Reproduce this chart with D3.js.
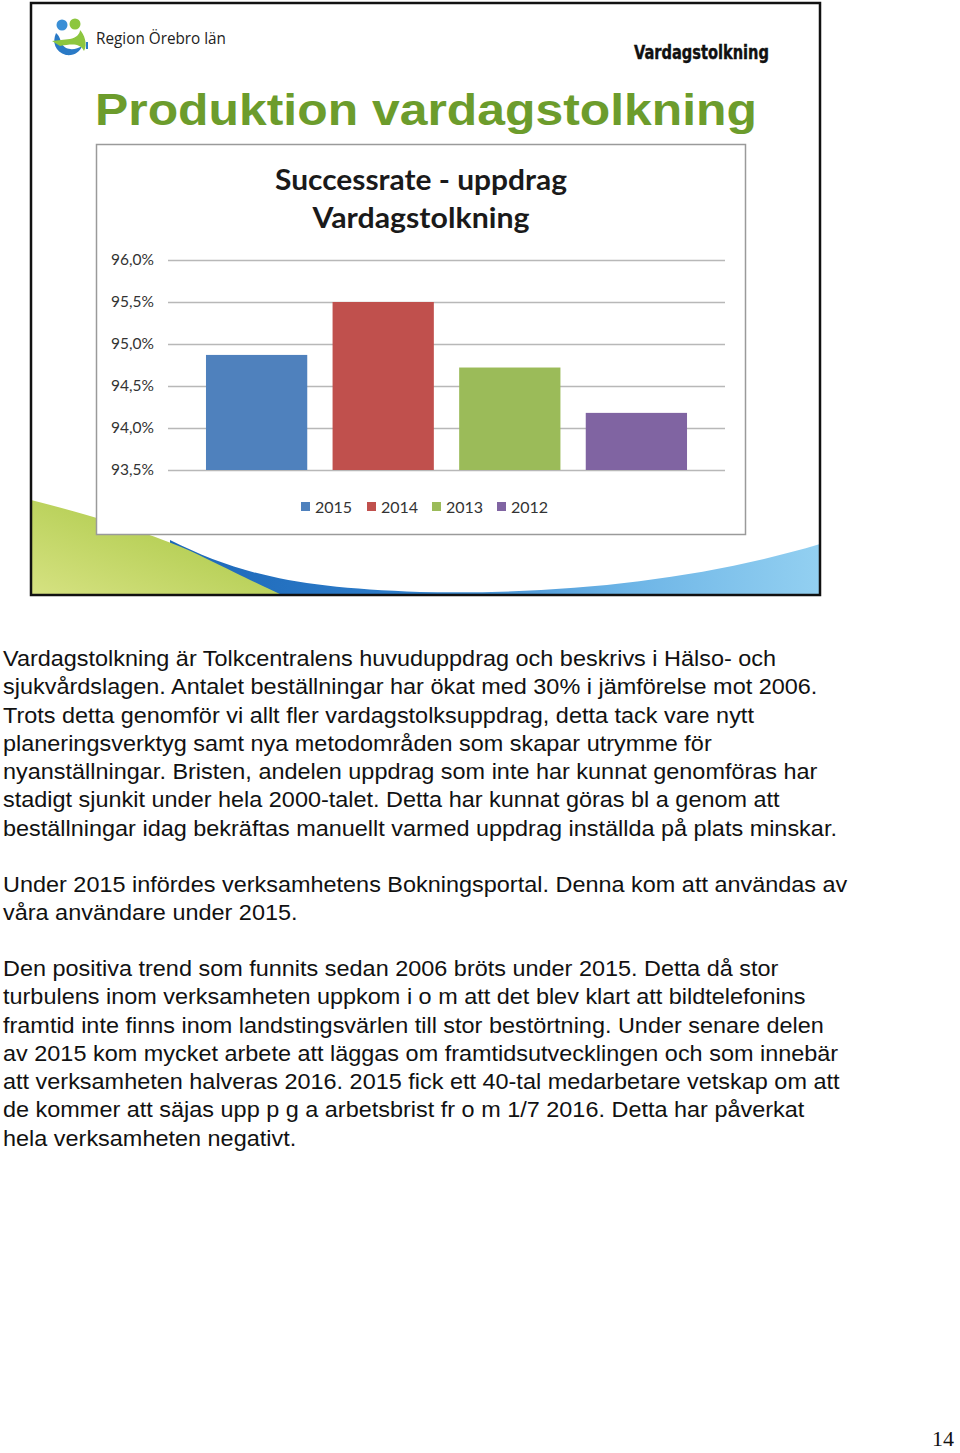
<!DOCTYPE html>
<html><head><meta charset="utf-8">
<script src="https://cdn.jsdelivr.net/npm/d3@7"></script>
<style>
html,body{margin:0;padding:0;background:#fff;}
svg{display:block;}
</style></head>
<body>
<svg id="page" width="960" height="1453"></svg>
<script>
// ---- data ----
const years = ["2015", "2014", "2013", "2012"];
const successRate = [94.87, 95.50, 94.72, 94.18];
const yTicks = [93.5, 94.0, 94.5, 95.0, 95.5, 96.0];
const seriesColors = ["#4f81bd", "#c0504d", "#9bbb59", "#8064a2"];
const chartTitle = ["Successrate - uppdrag", "Vardagstolkning"];
const slideTitle = "Produktion vardagstolkning";
const slideHeader = "Vardagstolkning";
const orgName = "Region Örebro län";
const paragraph1 = [
  "Vardagstolkning är Tolkcentralens huvuduppdrag och beskrivs i Hälso- och",
  "sjukvårdslagen. Antalet beställningar har ökat med 30% i jämförelse mot 2006.",
  "Trots detta genomför vi allt fler vardagstolksuppdrag, detta tack vare nytt",
  "planeringsverktyg samt nya metodområden som skapar utrymme för",
  "nyanställningar. Bristen, andelen uppdrag som inte har kunnat genomföras har",
  "stadigt sjunkit under hela 2000-talet. Detta har kunnat göras bl a genom att",
  "beställningar idag bekräftas manuellt varmed uppdrag inställda på plats minskar."
];
const paragraph2 = [
  "Under 2015 infördes verksamhetens Bokningsportal. Denna kom att användas av",
  "våra användare under 2015."
];
const paragraph3 = [
  "Den positiva trend som funnits sedan 2006 bröts under 2015. Detta då stor",
  "turbulens inom verksamheten uppkom i o m att det blev klart att bildtelefonins",
  "framtid inte finns inom landstingsvärlen till stor bestörtning. Under senare delen",
  "av 2015 kom mycket arbete att läggas om framtidsutvecklingen och som innebär",
  "att verksamheten halveras 2016. 2015 fick ett 40-tal medarbetare vetskap om att",
  "de kommer att säjas upp p g a arbetsbrist fr o m 1/7 2016. Detta har påverkat",
  "hela verksamheten negativt."
];
const pageNumber = "14";

const svg = d3.select("#page");
const defs = svg.append("defs");

// ---- slide background ----
const gGreen = defs.append("linearGradient").attr("id","gGreen").attr("x1","0").attr("y1","1").attr("x2","1").attr("y2","0");
gGreen.append("stop").attr("offset","0").attr("stop-color","#d6e282");
gGreen.append("stop").attr("offset","1").attr("stop-color","#a2c33a");
const gBlue = defs.append("linearGradient").attr("id","gBlue").attr("x1","0").attr("y1","0").attr("x2","1").attr("y2","0");
gBlue.append("stop").attr("offset","0").attr("stop-color","#1d67b8");
gBlue.append("stop").attr("offset","0.35").attr("stop-color","#2c7cc9");
gBlue.append("stop").attr("offset","0.7").attr("stop-color","#6cb4e6");
gBlue.append("stop").attr("offset","1").attr("stop-color","#93d0f1");

const slide = svg.append("g");
slide.append("rect").attr("x",31).attr("y",3).attr("width",789).attr("height",592).attr("fill","#fff");
slide.append("path")
  .attr("d","M170,540 C240,575 300,588 420,592 C560,595 700,580 820,544 L820,595 L170,595 Z")
  .attr("fill","url(#gBlue)");
slide.append("path")
  .attr("d","M31,500 C110,520 170,540 205,558 C240,575 260,585 282,595 L31,595 Z")
  .attr("fill","url(#gGreen)");
slide.append("rect").attr("x",31).attr("y",3).attr("width",789).attr("height",592)
  .attr("fill","none").attr("stroke","#111").attr("stroke-width",2.5);

// logo
const logo = slide.append("g");
logo.append("circle").attr("cx",62).attr("cy",25).attr("r",5.5).attr("fill","#3a8fd6");
logo.append("circle").attr("cx",75).attr("cy",24).attr("r",5.5).attr("fill","#8dc63f");
logo.append("path").attr("d","M56,33 C52,42 55,52 66,55 C74,56 80,52 82,46 C76,50 66,51 62,44 C60,40 60,36 56,33 Z").attr("fill","#2a7ac6");
logo.append("path").attr("d","M52,41 L70,39 C76,38 80,34 80,30 C84,34 88,44 84,51 C80,43 72,44 60,46 Z").attr("fill","#8dc63f");
logo.append("rect").attr("x",86).attr("y",42).attr("width",2).attr("height",7).attr("fill","#2a7ac6");
slide.append("text").attr("x",96).attr("y",44).text(orgName)
  .attr("font-family","'Open Sans', 'Noto Sans', sans-serif").attr("font-size",15.5).attr("fill","#222")
  .attr("textLength",130).attr("lengthAdjust","spacingAndGlyphs");
slide.append("text").attr("x",634).attr("y",59).text(slideHeader)
  .attr("font-family","'Liberation Sans Narrow', 'DejaVu Sans Condensed', sans-serif").attr("font-weight","bold")
  .attr("font-size",19.5).attr("fill","#111").attr("stroke","#111").attr("stroke-width",0.4)
  .attr("textLength",135).attr("lengthAdjust","spacingAndGlyphs");
slide.append("text").attr("x",95).attr("y",125).text(slideTitle)
  .attr("font-family","'Liberation Sans', Arial, sans-serif").attr("font-weight","bold")
  .attr("font-size",45).attr("fill","#6c9c2c")
  .attr("textLength",662).attr("lengthAdjust","spacingAndGlyphs");

// ---- chart ----
const chart = slide.append("g");
chart.append("rect").attr("x",96.5).attr("y",144.5).attr("width",649).attr("height",390)
  .attr("fill","#fff").attr("stroke","#9a9a9a").attr("stroke-width",1.5);
chartTitle.forEach((t,i)=>{
  chart.append("text").attr("x",421).attr("y",190+i*38).attr("text-anchor","middle").text(t)
    .attr("font-family","Lato, 'Open Sans', sans-serif").attr("font-weight","bold")
    .attr("font-size",28).attr("fill","#1a1a1a")
    .attr("textLength", i===0?292:217).attr("lengthAdjust","spacingAndGlyphs");
});

const x = d3.scaleBand().domain(years).range([168,725]).paddingInner(0.2).paddingOuter(0.3);
const y = d3.scaleLinear().domain([93.5,96.0]).range([470,260]);
const svLocale = d3.formatLocale({decimal:",", thousands:" ", grouping:[3], currency:["","kr"]});
const fmt = v => svLocale.format(".1f")(v) + "%";

const grid = chart.append("g").attr("transform","translate(168,0)")
  .call(d3.axisLeft(y).tickValues(yTicks).tickSize(-557).tickFormat(""));
grid.select(".domain").remove();
grid.selectAll(".tick line").attr("stroke","#b8b8b8").attr("stroke-width",1.5);

const yAxis = chart.append("g").attr("transform","translate(154,0)")
  .call(d3.axisLeft(y).tickValues(yTicks).tickSize(0).tickPadding(0).tickFormat(fmt));
yAxis.select(".domain").remove();
yAxis.selectAll(".tick text").attr("font-family","Lato, 'Open Sans', sans-serif")
  .attr("font-size",15.5).attr("fill","#333");

chart.append("g").selectAll("rect").data(years).join("rect")
  .attr("x", d=>x(d)).attr("width", x.bandwidth())
  .attr("y", (d,i)=>y(successRate[i])).attr("height",(d,i)=>y(93.5)-y(successRate[i]))
  .attr("fill",(d,i)=>seriesColors[i]);

// legend
const legendX = [301, 367, 432, 497];
const legend = chart.append("g");
years.forEach((yr,i)=>{
  legend.append("rect").attr("x",legendX[i]).attr("y",502).attr("width",9).attr("height",9).attr("fill",seriesColors[i]);
  legend.append("text").attr("x",legendX[i]+14).attr("y",513).text(yr)
    .attr("font-family","Lato, 'Open Sans', sans-serif").attr("font-size",16).attr("fill","#333");
});

// ---- body text ----
const body = svg.append("g").attr("transform","translate(3,0) scale(1.086,1)")
  .attr("font-family","'Liberation Sans', Arial, Helvetica, sans-serif")
  .attr("font-size",21.6).attr("fill","#111");
function para(lines, y0){
  lines.forEach((l,i)=>{
    body.append("text").attr("x",0).attr("y",y0+i*28.3).text(l);
  });
}
para(paragraph1, 666);
para(paragraph2, 892);
para(paragraph3, 976);

svg.append("text").attr("x",954).attr("y",1446).attr("text-anchor","end").text(pageNumber)
  .attr("font-family","'Liberation Serif', 'DejaVu Serif', serif").attr("font-size",22).attr("fill","#111");
</script>
</body></html>
